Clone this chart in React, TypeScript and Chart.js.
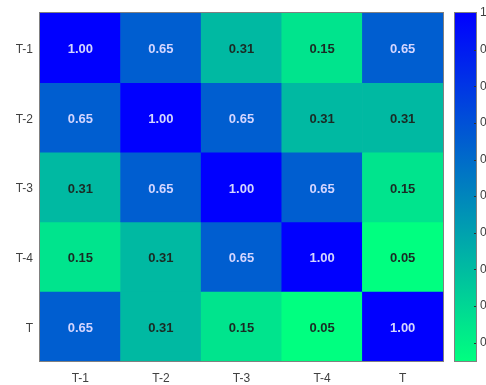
import React, { useEffect, useRef } from 'react';
import { Chart, registerables } from 'chart.js';

Chart.register(...registerables);

// Correlation matrix: rows and columns share the same lag labels
const rowLabels = ['T-1', 'T-2', 'T-3', 'T-4', 'T'];
const colLabels = ['T-1', 'T-2', 'T-3', 'T-4', 'T'];
const corrT1 = [1.0, 0.65, 0.31, 0.15, 0.65];
const corrT2 = [0.65, 1.0, 0.65, 0.31, 0.31];
const corrT3 = [0.31, 0.65, 1.0, 0.65, 0.15];
const corrT4 = [0.15, 0.31, 0.65, 1.0, 0.05];
const corrT = [0.65, 0.31, 0.15, 0.05, 1.0];
const matrixRows = [corrT1, corrT2, corrT3, corrT4, corrT];

// Colour scale limits and colorbar ticks
const colorMin = 0.05;
const colorMax = 1;
const colorbarTicks = [0.1, 0.2, 0.3, 0.4, 0.5, 0.6, 0.7, 0.8, 0.9, 1];

const FONT = 'Arial, "Liberation Sans", sans-serif';
const LABEL_COLOR = '#404040';
const FRAME_COLOR = '#808080';

// Blue (high) to spring green (low), "winter" style map
function colorFor(v: number): string {
  const t = Math.min(1, Math.max(0, (v - colorMin) / (colorMax - colorMin)));
  const g = Math.round(255 * (1 - t));
  const b = Math.round(255 * (0.5 + 0.5 * t));
  return `rgb(0,${g},${b})`;
}

const cellTextPlugin = {
  id: 'cellText',
  afterDatasetsDraw(chart: any) {
    const ctx = chart.ctx;
    const area = chart.chartArea;
    ctx.save();
    ctx.font = `bold 13px ${FONT}`;
    ctx.textAlign = 'center';
    ctx.textBaseline = 'middle';
    chart.data.datasets.forEach((ds: any, r: number) => {
      const meta = chart.getDatasetMeta(r);
      meta.data.forEach((el: any, c: number) => {
        const v = matrixRows[r][c];
        const cy = (el.y + el.base) / 2;
        ctx.fillStyle = v >= 0.5 ? '#d4d6ff' : '#1a2a24';
        ctx.fillText(v.toFixed(2), el.x, cy + 2);
      });
    });
    // frame around the matrix
    ctx.strokeStyle = FRAME_COLOR;
    ctx.lineWidth = 1;
    ctx.strokeRect(
      Math.round(area.left) - 0.5,
      Math.round(area.top) - 0.5,
      Math.round(area.right - area.left) + 1,
      Math.round(area.bottom - area.top) + 1
    );
    ctx.restore();
  },
};

const colorbarPlugin = {
  id: 'colorbar',
  afterDraw(chart: any) {
    const cb = chart.scales.cb;
    const ctx = chart.ctx;
    const x0 = Math.round(cb.left + 12);
    const w = 21;
    const top = cb.getPixelForValue(colorMax);
    const bottom = cb.getPixelForValue(colorMin);
    ctx.save();
    const grad = ctx.createLinearGradient(0, bottom, 0, top);
    const steps = 20;
    for (let i = 0; i <= steps; i++) {
      const v = colorMin + ((colorMax - colorMin) * i) / steps;
      grad.addColorStop(i / steps, colorFor(v));
    }
    ctx.fillStyle = grad;
    ctx.fillRect(x0, top, w, bottom - top);
    ctx.strokeStyle = FRAME_COLOR;
    ctx.lineWidth = 1;
    ctx.strokeRect(x0 - 0.5, Math.round(top) - 0.5, w + 1, Math.round(bottom - top) + 1);
    // tick marks on the inner right edge
    ctx.strokeStyle = '#303030';
    colorbarTicks.forEach((t) => {
      if (t >= colorMax) return;
      const y = Math.round(cb.getPixelForValue(t)) + 0.5;
      ctx.beginPath();
      ctx.moveTo(x0 + w - 2, y);
      ctx.lineTo(x0 + w, y);
      ctx.stroke();
    });
    ctx.restore();
  },
};

export default function App() {
  const canvasRef = useRef<HTMLCanvasElement | null>(null);

  useEffect(() => {
    if (!canvasRef.current) return;
    const datasets = matrixRows.map((row, r) => ({
      label: rowLabels[r],
      data: row.map(() => [r - 0.5, r + 0.5]),
      backgroundColor: row.map((v) => colorFor(v)),
      borderWidth: 0,
      grouped: false,
      categoryPercentage: 1,
      barPercentage: 1,
      xAxisID: 'x',
      yAxisID: 'y',
    }));

    const chart = new Chart(canvasRef.current, {
      type: 'bar',
      data: { labels: colLabels, datasets: datasets as any },
      plugins: [cellTextPlugin, colorbarPlugin],
      options: {
        animation: false,
        responsive: false,
        layout: { padding: { top: 13, left: 0, right: 0, bottom: 0 } },
        plugins: { legend: { display: false }, tooltip: { enabled: false } },
        scales: {
          x: {
            type: 'category',
            offset: true,
            grid: { display: false, drawTicks: false },
            border: { display: false },
            afterFit: (s: any) => {
              s.height = 24;
              s.paddingLeft = 0;
              s.paddingRight = 0;
            },
            ticks: { color: LABEL_COLOR, font: { size: 12, family: FONT }, padding: 10 },
          },
          y: {
            type: 'linear',
            position: 'left',
            min: -0.5,
            max: 4.5,
            reverse: true,
            grid: { display: false, drawTicks: false },
            border: { display: false },
            afterBuildTicks: (s: any) => {
              s.ticks = rowLabels.map((_, i) => ({ value: i }));
            },
            afterFit: (s: any) => {
              s.width = 40;
              s.paddingTop = 0;
              s.paddingBottom = 0;
            },
            ticks: {
              color: LABEL_COLOR,
              font: { size: 12, family: FONT },
              padding: 7,
              labelOffset: 2,
              callback: (v: any) => rowLabels[Number(v)] ?? '',
            },
          },
          cb: {
            type: 'linear',
            position: 'right',
            min: colorMin,
            max: colorMax,
            grid: { display: false, drawTicks: false },
            border: { display: false },
            afterBuildTicks: (s: any) => {
              s.ticks = colorbarTicks.map((v) => ({ value: v }));
            },
            afterFit: (s: any) => {
              s.width = 43;
              s.paddingTop = 0;
              s.paddingBottom = 0;
            },
            ticks: {
              color: LABEL_COLOR,
              font: { size: 12, family: FONT },
              padding: 37,
              callback: (v: any) => (Number(v) >= 1 ? '1' : Number(v).toFixed(1)),
            },
          },
        } as any,
      },
    });
    return () => chart.destroy();
  }, []);

  return (
    <div style={{ position: 'fixed', left: 0, top: 0, width: 486, height: 385, background: '#fff' }}>
      <canvas ref={canvasRef} width={486} height={385} />
    </div>
  );
}
